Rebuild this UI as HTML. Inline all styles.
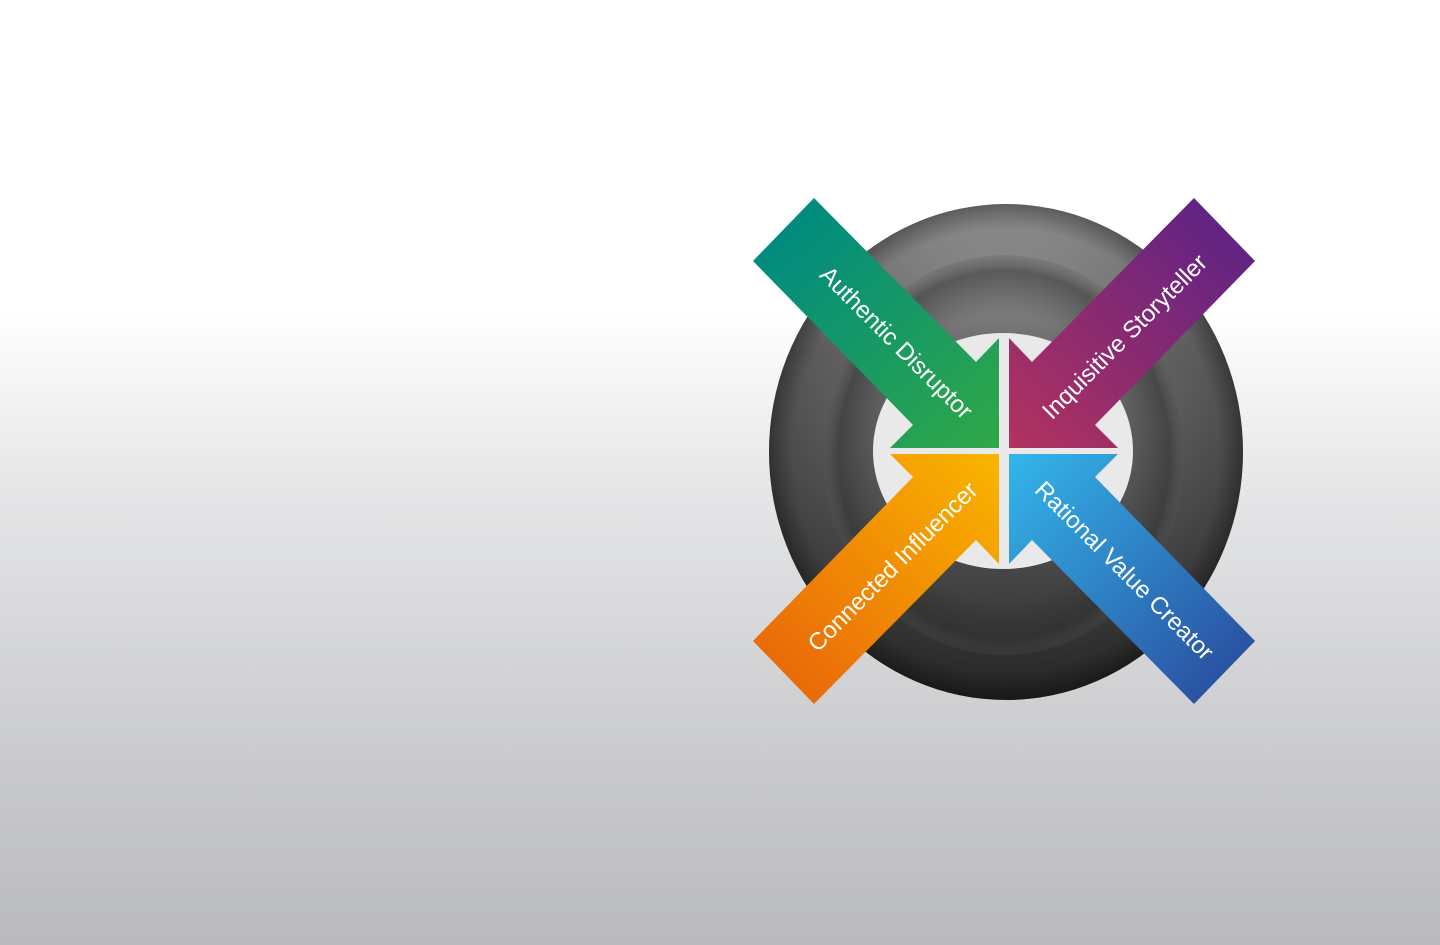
<!DOCTYPE html>
<html><head><meta charset="utf-8"><style>
html,body{margin:0;padding:0}
body{width:1440px;height:945px;overflow:hidden;background:linear-gradient(to bottom,#ffffff 0px,#ffffff 310px,#e6e7e8 480px,#cfd0d2 700px,#b9babd 945px);}
svg{position:absolute;left:0;top:0}
text{font-family:"Liberation Sans",sans-serif;font-size:24px;fill:#fff;text-anchor:middle;dominant-baseline:central}
</style></head><body>
<svg width="1440" height="945" viewBox="0 0 1440 945">
<defs>
<linearGradient id="ringL" x1="0" y1="0" x2="0" y2="1">
<stop offset="0" stop-color="#a9a9ab"/><stop offset="0.3" stop-color="#6a6a6b"/><stop offset="0.7" stop-color="#4a4a4b"/><stop offset="1" stop-color="#2c2c2d"/>
</linearGradient>
<radialGradient id="ringR" cx="0.5" cy="0.5" r="0.5">
<stop offset="0.6" stop-color="#000" stop-opacity="0"/><stop offset="0.9" stop-color="#000" stop-opacity="0.15"/><stop offset="1" stop-color="#000" stop-opacity="0.45"/>
</radialGradient>
<radialGradient id="inner" cx="0.5" cy="0.5" r="0.5">
<stop offset="0.7" stop-color="#333" stop-opacity="0"/><stop offset="0.92" stop-color="#2f2f2f" stop-opacity="0.5"/><stop offset="1" stop-color="#555" stop-opacity="0.2"/>
</radialGradient>
<linearGradient id="g" x1="780" y1="230" x2="999" y2="448" gradientUnits="userSpaceOnUse"><stop offset="0" stop-color="#008b80"/><stop offset="1" stop-color="#30a846"/></linearGradient>
<linearGradient id="p" x1="1228" y1="230" x2="1009" y2="448" gradientUnits="userSpaceOnUse"><stop offset="0" stop-color="#612383"/><stop offset="1" stop-color="#b2325f"/></linearGradient>
<linearGradient id="o" x1="780" y1="672" x2="999" y2="454" gradientUnits="userSpaceOnUse"><stop offset="0" stop-color="#ea6a08"/><stop offset="1" stop-color="#f9b500"/></linearGradient>
<linearGradient id="b" x1="1228" y1="672" x2="1009" y2="454" gradientUnits="userSpaceOnUse"><stop offset="0" stop-color="#2a52a2"/><stop offset="1" stop-color="#33b6ea"/></linearGradient>
</defs>
<ellipse cx="1006" cy="452" rx="237" ry="248" fill="url(#ringL)"/>
<ellipse cx="1006" cy="452" rx="237" ry="248" fill="url(#ringR)"/>
<ellipse cx="1004" cy="455" rx="180" ry="200" fill="url(#inner)"/>
<ellipse cx="1003" cy="451" rx="130" ry="118" fill="#e9e9ea"/>
<polygon fill="url(#g)" points="753,261 814,198 976,362 999,338 999,448 890,448 913,425"/>
<polygon fill="url(#p)" points="1255,261 1194,198 1032,362 1009,338 1009,448 1118,448 1095,425"/>
<polygon fill="url(#o)" points="753,641 814,704 976,540 999,564 999,454 890,454 913,477"/>
<polygon fill="url(#b)" points="1255,641 1194,704 1032,540 1009,564 1009,454 1118,454 1095,477"/>
<text transform="translate(896,343) rotate(45)">Authentic Disruptor</text>
<text transform="translate(1125,337) rotate(-45)">Inquisitive Storyteller</text>
<text transform="translate(893,567) rotate(-45)">Connected Influencer</text>
<text transform="translate(1124,571) rotate(45)">Rational Value Creator</text>
</svg>
</body></html>
